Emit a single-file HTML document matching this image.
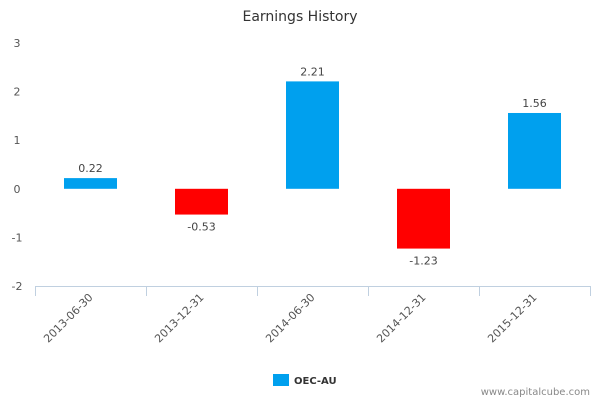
<!DOCTYPE html>
<html><head><meta charset="utf-8"><style>
body{margin:0;background:#fff;width:600px;height:400px;overflow:hidden}
svg{font-family:"DejaVu Sans","Liberation Sans",sans-serif}
</style></head><body>
<svg id="chart" width="600" height="400" viewBox="0 0 600 400">
<rect width="600" height="400" fill="#fff"/>
<text x="300" y="21" text-anchor="middle" font-size="14" fill="#333">Earnings History</text>
<g id="yaxis"></g>
<g id="xaxis"></g>
<g id="bars"></g>
<g>
<rect x="273" y="374" width="16" height="12" fill="#00a0ee"/>
<text x="294" y="384" font-size="10" font-weight="bold" fill="#333">OEC-AU</text>
</g>
<text x="590" y="395" text-anchor="end" font-size="10" fill="#888">www.capitalcube.com</text>
</svg>
<script>
const categories = ["2013-06-30","2013-12-31","2014-06-30","2014-12-31","2015-12-31"];
const values = [0.22,-0.53,2.21,-1.23,1.56];
const valueLabels = ["0.22","-0.53","2.21","-1.23","1.56"];
const yTicks = [3,2,1,0,-1,-2];
const NS="http://www.w3.org/2000/svg";
const left=35,right=590,yMin=-2,yMax=3,yTop=43,yBot=286;
const y=v=>yBot-(v-yMin)/(yMax-yMin)*(yBot-yTop);
const bw=(right-left)/categories.length;
const xc=i=>left+bw*(i+0.5);
function mk(t,a,p){const e=document.createElementNS(NS,t);for(const k in a)e.setAttribute(k,a[k]);p.appendChild(e);return e;}
const ya=document.getElementById('yaxis'),xa=document.getElementById('xaxis'),bg=document.getElementById('bars');
yTicks.forEach(t=>{
 const e=mk('text',{x:17,y:y(t)+4,'text-anchor':'middle','font-size':11,fill:'#555'},ya);
 
 
 e.textContent=t;
});
const ax=mk('line',{x1:left,x2:right,y1:yBot+0.5,y2:yBot+0.5,stroke:'#c0d0e0'},xa);


for(let i=0;i<=categories.length;i++){
 const xx=Math.round(left+bw*i)+0.5;
 const tk=mk('line',{x1:xx,x2:xx,y1:yBot,y2:yBot+10,stroke:'#c0d0e0'},xa);
 
 
}
categories.forEach((c,i)=>{
 const lx=xc(i)+3,ly=yBot+12;
 const e=mk('text',{x:lx,y:ly,'text-anchor':'end','font-size':11,fill:'#555',transform:`rotate(-45 ${lx} ${ly})`},xa);
 
 
 e.textContent=c;
 const v=values[i],w=53;
 const top=v>=0?y(v):y(0),h=Math.abs(y(v)-y(0));
 const r=mk('rect',{x:xc(i)-w/2,y:top,width:w,height:h,fill:v>=0?'#00a0ee':'#ff0000'},bg);
 
 
 const t=mk('text',{x:xc(i),y:v>=0?y(v)-6:y(v)+16,'text-anchor':'middle','font-size':11,fill:'#444'},bg);
 
 
 t.textContent=valueLabels[i];
});
</script>
</body></html>
